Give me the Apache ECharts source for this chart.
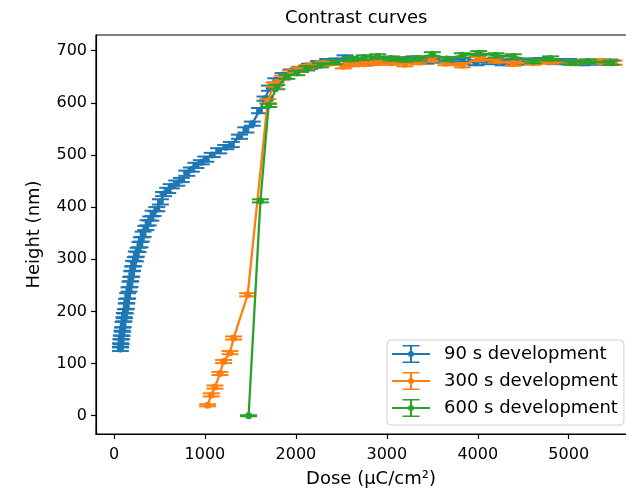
<!DOCTYPE html>
<html>
<head>
<meta charset="utf-8">
<script src="https://cdn.jsdelivr.net/npm/echarts@6/dist/echarts.min.js"></script>
<style>
  html, body { margin: 0; padding: 0; background: #fff; }
  #chart { width: 626px; height: 490px; }
</style>
</head>
<body>
<div id="chart"></div>
<script>
// 90 s development
var dose90 = [70, 72, 78, 80, 88, 95, 100, 110, 115, 125, 135, 140, 150, 165, 175, 185, 195, 205, 215, 235,
  245, 265, 285, 300, 320, 350, 375, 405, 430, 470, 510, 545, 590, 630, 690, 740, 800, 850, 900, 960,
  1010, 1080, 1150, 1230, 1290, 1380, 1450, 1520, 1600, 1660, 1710, 1780, 1860, 1950, 2050, 2150, 2250, 2350, 2450, 2540,
  2650, 2780, 2900, 3050, 3180, 3300, 3430, 3560, 3700, 3830, 3980, 4130, 4280, 4420, 4570, 4700, 4850, 5000, 5150, 5300, 5450];
var height90 = [128, 135, 142, 150, 158, 165, 175, 185, 192, 200, 210, 220, 230, 242, 252, 262, 272, 282, 292, 300,
  310, 318, 328, 338, 348, 360, 370, 378, 388, 396, 410, 425, 432, 440, 446, 452, 465, 472, 480, 486,
  492, 500, 508, 515, 520, 535, 548, 560, 585, 608, 628, 643, 652, 660, 664, 670, 675, 679, 680, 686,
  678, 677, 682, 681, 682, 684, 680, 682, 678, 680, 677, 679, 677, 678, 680, 681, 679, 679, 677, 678, 678];
var err90 = [4, 4, 5, 4, 5, 4, 5, 4, 5, 4, 5, 4, 5, 4, 5, 4, 5, 4, 5, 4,
  5, 4, 5, 4, 5, 4, 5, 4, 5, 4, 5, 4, 5, 4, 5, 4, 5, 4, 5, 4,
  5, 4, 5, 4, 5, 4, 5, 4, 5, 4, 5, 4, 5, 4, 5, 5, 5, 5, 5, 5,
  5, 5, 5, 5, 5, 5, 5, 5, 5, 5, 5, 5, 5, 5, 5, 5, 5, 5, 5, 5, 5];

// 300 s development
var dose300 = [1030, 1070, 1110, 1165, 1205, 1275, 1315, 1470, 1690, 1760, 1850, 1940, 2030, 2120, 2200, 2300, 2400, 2520, 2610,
  2750, 2900, 3050, 3200, 3350, 3500, 3650, 3830, 4000, 4200, 4390, 4610, 4800, 5030, 5210, 5360, 5500];
var height300 = [20, 40, 55, 81, 104, 121, 149, 232, 603, 635, 648, 658, 664, 668, 672, 675, 677, 670, 674,
  675, 677, 677, 674, 678, 683, 676, 672, 684, 681, 675, 677, 679, 677, 679, 679, 677];
var err300 = [2, 3, 3, 3, 3, 3, 3, 3, 4, 4, 4, 4, 4, 4, 4, 4, 4, 4, 4,
  4, 4, 4, 4, 4, 4, 4, 4, 4, 4, 4, 4, 4, 4, 4, 4, 4];

// 600 s development
var dose600 = [1480, 1610, 1700, 1790, 1900, 2010, 2120, 2270, 2420, 2600, 2750, 2900, 3050, 3200, 3350,
  3500, 3660, 3830, 4010, 4200, 4390, 4610, 4800, 5030, 5210, 5470];
var height600 = [0, 412, 595, 630, 650, 657, 666, 672, 678, 684, 687, 689, 685, 683, 685,
  693, 684, 691, 695, 691, 689, 680, 685, 677, 679, 677];
var err600 = [1, 3, 3, 4, 4, 4, 4, 4, 4, 4, 4, 4, 4, 4, 4,
  4, 4, 4, 4, 4, 4, 4, 4, 4, 4, 4];

var xTicks = [0, 1000, 2000, 3000, 4000, 5000];
var yTicks = [0, 100, 200, 300, 400, 500, 600, 700];

var names = ['90 s development', '300 s development', '600 s development'];
var colors = ['#1f77b4', '#ff7f0e', '#2ca02c'];
var font = 'DejaVu Sans';

// legend handle: line + marker + vertical error bar with caps
var errIcon = 'path://M0 8h38v2H0z M18 0h2v18h-2z M10.5 0h17v1.6h-17z M10.5 16.4h17v1.6h-17z M16 9a3 3 0 1 1 6 0a3 3 0 1 1 -6 0z';

function pairs(xs, ys) { return xs.map(function (x, i) { return [x, ys[i]]; }); }
function triples(xs, ys, es) { return xs.map(function (x, i) { return [x, ys[i], es[i]]; }); }

function errBars(color) {
  return function (params, api) {
    var x = api.value(0), y = api.value(1), e = api.value(2);
    var lo = api.coord([x, y - e]);
    var hi = api.coord([x, y + e]);
    var cap = 8.5;
    var st = { stroke: color, lineWidth: 2 };
    return {
      type: 'group',
      children: [
        { type: 'line', shape: { x1: lo[0], y1: lo[1], x2: hi[0], y2: hi[1] }, style: st },
        { type: 'line', shape: { x1: lo[0] - cap, y1: lo[1], x2: lo[0] + cap, y2: lo[1] }, style: st },
        { type: 'line', shape: { x1: hi[0] - cap, y1: hi[1], x2: hi[0] + cap, y2: hi[1] }, style: st }
      ]
    };
  };
}

var sets = [
  [dose90, height90, err90],
  [dose300, height300, err300],
  [dose600, height600, err600]
];

var series = [];
sets.forEach(function (s, i) {
  series.push({
    name: names[i],
    type: 'line',
    data: pairs(s[0], s[1]),
    symbol: 'circle',
    symbolSize: 7,
    showSymbol: true,
    color: colors[i],
    lineStyle: { width: 2.3, color: colors[i] },
    itemStyle: { color: colors[i] },
    z: 2 + i * 2,
    animation: false
  });
  series.push({
    name: names[i],
    type: 'custom',
    data: triples(s[0], s[1], s[2]),
    renderItem: errBars(colors[i]),
    encode: { x: 0, y: 1 },
    z: 3 + i * 2,
    animation: false,
    silent: true
  });
});

var chart = echarts.init(document.getElementById('chart'), null, { renderer: 'canvas' });
chart.setOption({
  backgroundColor: '#fff',
  animation: false,
  textStyle: { fontFamily: font },
  title: {
    text: 'Contrast curves',
    left: 280,
    top: 4,
    textStyle: { fontFamily: font, fontSize: 18, fontWeight: 'normal', color: '#000' }
  },
  grid: {
    left: 96, top: 35, width: 550, height: 399,
    show: true, borderColor: '#000', borderWidth: 1.2,
    outerBoundsMode: 'none'
  },
  legend: {
    orient: 'vertical',
    left: 387, top: 340,
    padding: [5, 6, 8, 5],
    itemGap: 9,
    itemWidth: 38, itemHeight: 18,
    backgroundColor: 'rgba(255,255,255,0.8)',
    borderColor: '#d0d0d0', borderWidth: 1, borderRadius: 4,
    textStyle: { fontFamily: font, fontSize: 18, color: '#000', padding: [0, 0, 0, 9] },
    data: names.map(function (n) { return { name: n, icon: errIcon }; })
  },
  xAxis: {
    type: 'value',
    min: -198, max: 5850,
    name: 'Dose (µC/cm²)',
    nameLocation: 'middle',
    nameGap: 36,
    nameTextStyle: { fontFamily: font, fontSize: 18, color: '#000' },
    splitLine: { show: false },
    axisLine: { show: true, onZero: false, lineStyle: { color: '#000', width: 1.2 } },
    axisTick: { show: true, length: 5, customValues: xTicks, lineStyle: { color: '#000', width: 1.2 } },
    axisLabel: {
      customValues: xTicks, margin: 13, fontFamily: font, fontSize: 16, color: '#000',
      formatter: function (v) { return String(v); }
    }
  },
  yAxis: {
    type: 'value',
    min: -35, max: 730,
    name: 'Height (nm)',
    nameLocation: 'middle',
    nameGap: 53,
    nameTextStyle: { fontFamily: font, fontSize: 18, color: '#000' },
    splitLine: { show: false },
    axisLine: { show: true, onZero: false, lineStyle: { color: '#000', width: 1.2 } },
    axisTick: { show: true, length: 5, customValues: yTicks, lineStyle: { color: '#000', width: 1.2 } },
    axisLabel: {
      customValues: yTicks, margin: 9, fontFamily: font, fontSize: 16, color: '#000',
      formatter: function (v) { return String(v); }
    }
  },
  series: series
});
</script>
</body>
</html>
